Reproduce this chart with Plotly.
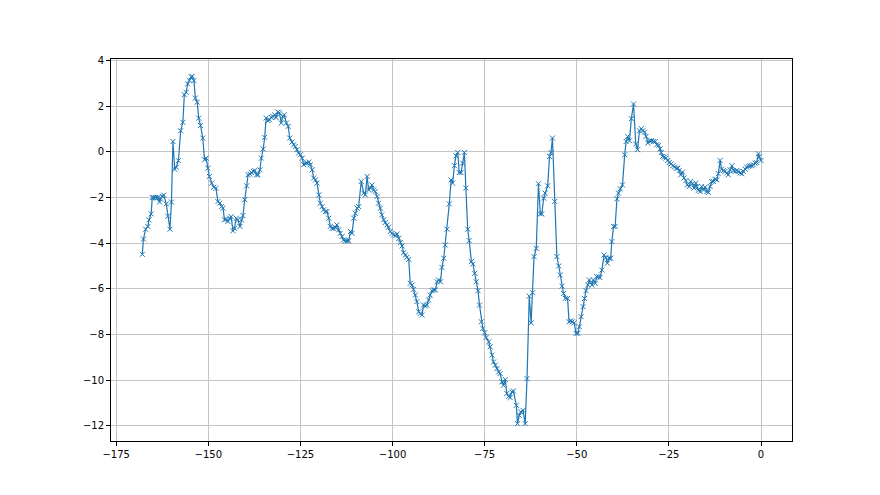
import plotly.graph_objects as go

# values, in segments from left to right
x_vals = [
    -167.9, -167.6, -167.0, -166.4, -166.1, -165.5, -165.2, -164.8, -164.3, -164.0, -163.6, -163.2, -163.0,
    -162.5, -162.1, -161.4, -161.0, -160.4, -160.0, -159.6, -159.1, -158.7, -158.1, -157.5, -156.9, -156.5,
    -156.0, -155.6, -155.1, -154.6, -154.4, -153.9, -153.5, -153.0, -152.6, -152.1, -151.5, -151.0, -150.6,
    -150.1, -149.7, -149.1, -148.5,
    -147.9, -147.4, -146.9, -146.4, -146.0, -145.6, -145.1, -144.7, -144.2, -143.8, -143.3, -142.9, -142.4,
    -142.0, -141.4, -141.0, -140.6, -140.1, -139.6, -139.2, -138.7, -138.3, -137.8, -137.4, -136.9, -136.5,
    -136.0, -135.6, -135.1, -134.7, -134.3, -133.8, -133.4, -132.9, -132.5, -132.0, -131.6, -131.1, -130.7,
    -130.2, -129.8, -129.4, -128.8, -128.3, -127.9,
    -127.3, -126.8, -126.4, -125.9, -125.5, -125.0, -124.5, -124.1, -123.6, -123.2, -122.7, -122.3, -121.8,
    -121.4, -120.9, -120.5, -120.0, -119.6, -119.1, -118.7, -118.2, -117.8, -117.3, -116.9, -116.4, -116.0,
    -115.5, -115.1, -114.6, -114.2, -113.7, -113.3, -112.8, -112.3, -111.9, -111.4, -111.0, -110.5, -110.1,
    -109.6, -109.2, -108.5,
    -107.8, -107.4, -106.9, -106.5, -106.0, -105.6, -105.1, -104.7, -104.2, -103.8, -103.3, -102.9, -102.4,
    -102.0, -101.5, -101.1, -100.6, -100.1, -99.7, -99.2, -98.8, -98.3, -97.9, -97.4, -97.0, -96.5, -96.1,
    -95.6, -95.2, -94.7, -94.3, -93.8, -93.4, -92.9, -92.5, -92.0, -91.6, -91.1, -90.7, -90.2, -89.8, -89.3,
    -88.8,
    -88.4, -87.9, -87.5, -87.0, -86.6, -86.1, -85.7, -85.2, -84.6, -84.1, -83.7, -83.2, -82.8, -82.3, -81.9,
    -81.4, -81.0, -80.5, -80.1, -79.6, -79.2, -78.6, -78.2, -77.7, -77.3, -76.8, -76.4, -75.9, -75.5, -75.0,
    -74.6, -73.9, -73.5, -73.0, -72.6, -72.1, -71.7, -71.2, -70.8, -70.3, -69.9, -69.4, -69.0, -68.5, -68.1,
    -67.6, -67.2,
    -66.4, -66.1, -65.6, -65.2, -64.6, -64.0, -63.5, -62.9, -62.4, -62.0, -61.6, -61.0, -60.4, -59.9, -59.5,
    -59.0, -58.6, -57.9, -57.4, -57.0, -56.6, -56.0, -55.4, -54.9, -54.5, -54.0, -53.6, -53.1, -52.5, -52.1,
    -51.6, -51.2, -50.7, -50.2, -49.7, -49.3, -48.8, -48.3, -47.9, -47.5, -47.0, -46.6,
    -45.9, -45.5, -45.0, -44.6, -44.1, -43.7, -43.2, -42.6, -42.1, -41.7, -41.2, -40.8, -40.5, -40.0, -39.6,
    -39.1, -38.7, -38.2, -37.6, -37.0, -36.6, -36.2, -35.7, -35.2, -34.6, -34.0, -33.5, -33.0, -32.5, -32.1,
    -31.6, -31.2, -30.7, -30.3, -29.8, -29.2, -28.7, -28.3, -27.8, -27.4,
    -27.1, -26.7, -26.2, -25.8, -25.3, -24.9, -24.4, -23.9, -23.5, -23.0, -22.6, -22.2, -21.8, -21.3, -20.9,
    -20.4, -20.0, -19.5, -19.1, -18.6, -18.2, -17.7, -17.4, -17.0, -16.5, -16.1, -15.6, -15.2, -14.7, -14.3,
    -13.8, -13.4, -12.9, -12.5, -12.0, -11.6, -11.1, -10.7, -10.2, -9.8, -9.3, -8.9, -8.4, -7.9, -7.5, -7.0,
    -6.6, -6.2, -5.7, -5.2, -4.8, -4.3, -3.9, -3.4, -3.0, -2.5, -2.1, -1.6, -1.2, -0.7, -0.5, 0.0,
]

y_vals = [
    -4.49, -3.82, -3.39, -3.27, -2.98, -2.72, -2.0, -2.0, -2.0, -2.03, -2.0, -2.2, -2.07,
    -1.95, -1.9, -2.28, -2.82, -3.39, -2.2, 0.45, -0.77, -0.68, -0.39, 0.92, 1.29, 2.5,
    2.6, 2.97, 3.13, 3.28, 3.3, 3.11, 2.35, 2.17, 1.47, 1.15, 0.6, -0.35, -0.28,
    -0.72, -1.08, -1.37, -1.55,
    -1.6, -2.18, -2.25, -2.4, -2.47, -2.98, -2.95, -3.05, -2.91, -2.84, -3.46, -3.35, -2.91,
    -2.98, -3.27, -2.98, -2.79, -2.1, -1.49, -1.01, -0.98, -0.91, -0.86, -0.82, -1.01, -1.01,
    -0.79, -0.28, 0.12, 0.63, 1.48, 1.36, 1.4, 1.5, 1.55, 1.62, 1.5, 1.74, 1.7,
    1.26, 1.55, 1.62, 1.26, 1.11, 0.6,
    0.42, 0.31, 0.23, 0.09, -0.06, -0.13, -0.28, -0.57, -0.5, -0.5, -0.45, -0.57, -0.79,
    -1.15, -1.23, -1.37, -1.89, -2.25, -2.4, -2.54, -2.62, -2.62, -2.91, -3.27, -3.35, -3.35,
    -3.32, -3.2, -3.42, -3.57, -3.71, -3.86, -3.9, -3.9, -3.9, -3.49, -3.57, -2.91, -2.69,
    -2.47, -2.4, -1.3,
    -1.81, -1.89, -1.08, -1.67, -1.59, -1.45, -1.67, -1.74, -1.96, -2.25, -2.47, -2.76, -2.98,
    -3.1, -3.2, -3.3, -3.49, -3.57, -3.64, -3.68, -3.6, -3.79, -3.98, -4.12, -4.42, -4.52, -4.62,
    -4.71, -5.76, -5.83, -6.02, -6.27, -6.56, -7.0, -7.08, -7.15, -6.71, -6.75, -6.71, -6.49, -6.27, -6.08,
    -6.05,
    -6.05, -5.69, -5.61, -5.69, -5.06, -4.66, -4.08, -3.39, -2.28, -1.23, -1.37, -0.61, -0.18, -0.03, -0.91,
    -0.91, -0.5, -0.03, -1.59, -3.39, -3.89, -4.81, -4.91, -5.32, -5.69, -6.08, -6.71, -7.44, -7.73, -7.92,
    -8.13, -8.32, -8.54, -8.9, -9.2, -9.34, -9.49, -9.64, -9.71, -10.07, -10.22, -9.97, -10.58, -10.7, -10.76,
    -10.51, -10.47,
    -11.1, -11.9, -11.54, -11.39, -11.32, -11.9, -9.93, -6.32, -7.49, -6.17, -4.59, -4.23, -1.4, -2.72, -2.72,
    -2.03, -1.81, -1.49, -0.21, -0.03, 0.6, -2.18, -4.59, -5.0, -5.39, -5.88, -6.2, -6.42, -6.42, -7.44,
    -7.4, -7.44, -7.49, -7.95, -7.95, -7.66, -7.22, -6.78, -6.42, -6.08, -5.83, -5.61,
    -5.83, -5.61, -5.76, -5.47, -5.47, -5.51, -5.18, -4.52, -4.63, -4.88, -4.66, -4.66, -3.93, -3.27, -3.27,
    -2.06, -1.81, -1.62, -1.45, -0.13, 0.45, 0.67, 0.48, 1.45, 2.09, 0.34, 0.09, 0.92, 1.01, 0.92,
    0.86, 0.67, 0.38, 0.48, 0.48, 0.45, 0.45, 0.31, 0.28, 0.13,
    -0.03, -0.21, -0.23, -0.28, -0.38, -0.47, -0.53, -0.61, -0.67, -0.72, -0.72, -0.82, -1.01, -0.89, -1.15,
    -1.26, -1.45, -1.52, -1.3, -1.4, -1.59, -1.37, -1.52, -1.69, -1.74, -1.52, -1.67, -1.55, -1.74, -1.78,
    -1.52, -1.3, -1.3, -1.2, -1.23, -0.96, -0.38, -0.76, -0.82, -0.86, -0.93, -1.01, -0.79, -0.61, -0.82, -0.86,
    -0.82, -0.86, -0.93, -0.96, -0.86, -0.76, -0.67, -0.64, -0.61, -0.61, -0.57, -0.5, -0.47, -0.09, -0.21, -0.38,
]

x_ticks = [-175, -150, -125, -100, -75, -50, -25, 0]
y_ticks = [-12, -10, -8, -6, -4, -2, 0, 2, 4]

n = min(len(x_vals), len(y_vals))

fig = go.Figure()
fig.add_trace(go.Scatter(
    x=x_vals[:n], y=y_vals[:n], mode="lines+markers",
    line=dict(color="#1f77b4", width=1.2),
    marker=dict(symbol="x-thin", size=5, line=dict(width=1, color="#1f77b4"), color="#1f77b4"),
    showlegend=False,
))

axis_style = dict(
    showline=True, mirror=True, linecolor="black", linewidth=1,
    ticks="outside", ticklen=4, tickwidth=1, tickcolor="black",
    showgrid=True, gridcolor="#c4c4c4", gridwidth=0.8, zeroline=False,
    tickfont=dict(family="DejaVu Sans", size=10, color="black"),
)

# page body adds ~8px offset, margins compensate for it
fig.update_layout(
    width=880, height=495,
    margin=dict(l=103, r=96, t=51, b=62),
    plot_bgcolor="white", paper_bgcolor="white",
    xaxis=dict(range=[-176.4, 8.4], tickvals=x_ticks, **axis_style),
    yaxis=dict(range=[-12.66, 4.06], tickvals=y_ticks, **axis_style),
)

fig.write_html("out.html")
